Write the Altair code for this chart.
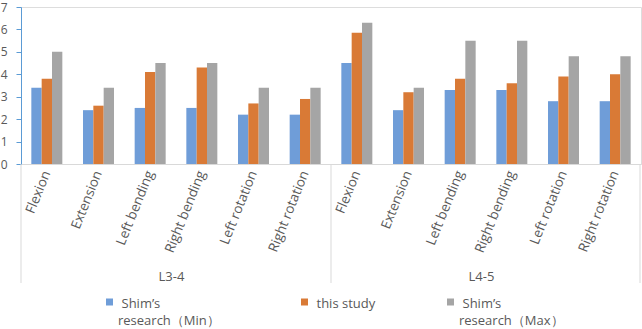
import altair as alt
import pandas as pd

levels = ["L3-4", "L4-5"]
movements = ["Flexion", "Extension", "Left bending", "Right bending", "Left rotation", "Right rotation"]
series = ["Shim's research (Min)", "this study", "Shim's research (Max)"]
shim_min = [3.4, 2.4, 2.5, 2.5, 2.2, 2.2, 4.5, 2.4, 3.3, 3.3, 2.8, 2.8]
this_study = [3.8, 2.6, 4.1, 4.3, 2.7, 2.9, 5.85, 3.2, 3.8, 3.6, 3.9, 4.0]
shim_max = [5.0, 3.4, 4.5, 4.5, 3.4, 3.4, 6.3, 3.4, 5.5, 5.5, 4.8, 4.8]
colors = ["#6F9DD8", "#D97A36", "#A5A5A5"]
legend_line1 = ["Shim\u2019s", "this study", "Shim\u2019s"]
legend_line2 = ["research\uff08Min\uff09", "", "research\uff08Max\uff09"]

FONT = "Open Sans"
TXT = "#595959"
W, H = 620, 157
TOP = 7

rows = []
cats = []
for li, lv in enumerate(levels):
    for mi, mv in enumerate(movements):
        cat = f"{lv}|{mv}"
        cats.append(cat)
        idx = li * len(movements) + mi
        for s, vals in zip(series, [shim_min, this_study, shim_max]):
            rows.append({"cat": cat, "series": s, "value": vals[idx]})
df = pd.DataFrame(rows)

bars = alt.Chart(df).mark_bar().encode(
    x=alt.X("cat:N", sort=cats, title=None,
            scale=alt.Scale(paddingInner=0.4, paddingOuter=0.2),
            axis=alt.Axis(labelExpr="split(datum.label, '|')[1]", labelAngle=-68,
                          labelFont=FONT, labelFontSize=13.5, labelColor=TXT,
                          domainColor="#D9D9D9", ticks=False, labelPadding=7,
                          labelLimit=200)),
    xOffset=alt.XOffset("series:N", sort=series, scale=alt.Scale(paddingInner=0, paddingOuter=0)),
    y=alt.Y("value:Q", title=None, scale=alt.Scale(domain=[0, 7], nice=False),
            axis=alt.Axis(values=list(range(8)), grid=False, domainColor="#5B9BD5",
                          tickColor="#5B9BD5", tickSize=5, labelPadding=9,
                          labelFont=FONT, labelFontSize=12, labelColor=TXT)),
    color=alt.Color("series:N", sort=series, legend=None,
                    scale=alt.Scale(domain=series, range=colors)),
)

# group separators below the x axis
step = W / 12
sep_x = [0, 6 * step, W - 1]
seps = [alt.Chart(pd.DataFrame({"a": [0]})).mark_rule(color="#D9D9D9", strokeWidth=1).encode(
    x=alt.value(sx), y=alt.value(H), y2=alt.value(H + 119)) for sx in sep_x]

grp_df = pd.DataFrame({"level": levels, "px": [3 * step - 4.5, 9 * step - 4.5]})
grp = alt.Chart(grp_df).mark_text(font=FONT, fontSize=13, color=TXT).encode(
    x=alt.X("px:Q", scale=None), y=alt.value(H + 113), text="level:N")

# manual legend
leg_sym_x = [88.5, 283.5, 429.5]
legend_layers = []
for i in range(3):
    d = pd.DataFrame({"s": [series[i]], "l1": [legend_line1[i]], "l2": [legend_line2[i]]})
    sq = alt.Chart(d).mark_square(size=49, opacity=1).encode(
        x=alt.value(leg_sym_x[i]), y=alt.value(H + 138),
        color=alt.Color("s:N", scale=alt.Scale(domain=series, range=colors), legend=None))
    t1 = alt.Chart(d).mark_text(font=FONT, fontSize=13, color=TXT, align="left").encode(
        x=alt.value(leg_sym_x[i] + 12), y=alt.value(H + 140), text="l1:N")
    t2 = alt.Chart(d).mark_text(font=FONT, fontSize=13, color=TXT, align="left").encode(
        x=alt.value(leg_sym_x[i] + 8.5), y=alt.value(H + 157), text="l2:N")
    legend_layers += [sq, t1, t2]

chart = alt.layer(bars, *seps, grp, *legend_layers).properties(
    width=W, height=H,
    autosize=alt.AutoSizeParams(type="none"),
    padding={"left": 21, "top": TOP, "right": 1, "bottom": 329 - TOP - H},
).configure_view(stroke=None).configure(background="white")

chart.save("out.html", embed_options={"renderer": "svg", "actions": False})
